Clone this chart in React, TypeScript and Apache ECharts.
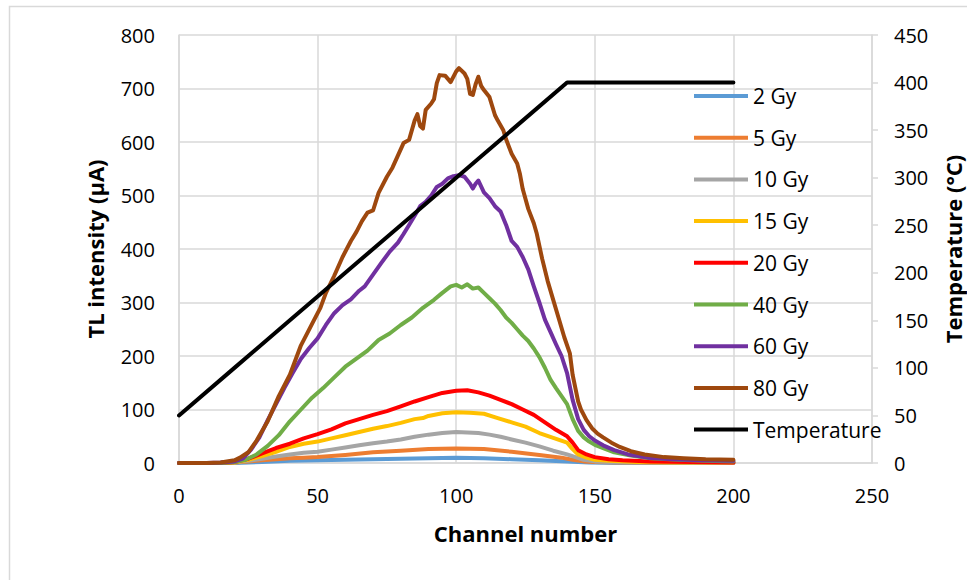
import React, { useEffect, useRef } from "react";
import * as echarts from "echarts";

// Glow curves: [channel, TL intensity (µA)]
const gy2: [number, number][] = [
  [0, 0], [20, 0], [30, 2], [40, 4], [50, 5], [60, 6], [70, 7], [80, 8], [90, 9], [100, 10],
  [110, 9], [120, 7], [130, 5], [140, 3], [148, 1], [160, 0], [200, 0],
];
const gy5: [number, number][] = [
  [0, 0], [15, 0], [20, 1], [25, 3], [30, 5], [35, 7], [40, 9], [45, 10], [50, 11], [60, 15],
  [70, 20], [80, 23], [90, 26], [100, 27], [110, 26], [120, 21], [130, 15], [138, 10], [142, 6],
  [146, 3], [150, 2], [160, 1], [200, 0],
];
const gy10: [number, number][] = [
  [0, 0], [15, 0], [20, 1], [25, 4], [30, 8], [35, 12], [40, 16], [45, 19], [50, 21], [55, 25],
  [60, 29], [65, 33], [70, 37], [75, 40], [80, 44], [85, 49], [90, 53], [95, 56], [100, 58],
  [104, 57], [108, 56], [112, 53], [116, 49], [120, 44], [125, 38], [130, 31], [135, 23],
  [140, 16], [143, 11], [146, 6], [150, 3], [160, 1], [200, 0],
];
const gy15: [number, number][] = [
  [0, 0], [15, 0], [20, 1], [25, 6], [30, 13], [35, 21], [40, 30], [45, 36], [50, 40], [55, 46],
  [60, 52], [65, 58], [70, 64], [75, 69], [80, 75], [85, 82], [88, 84], [90, 88], [95, 93],
  [100, 95], [105, 94], [110, 92], [115, 84], [120, 76], [125, 68], [130, 56], [135, 47],
  [140, 38], [142, 26], [144, 16], [147, 10], [150, 6], [155, 4], [165, 2], [180, 1], [200, 1],
];
const gy20: [number, number][] = [
  [0, 0], [15, 0], [20, 2], [25, 8], [30, 18], [35, 28], [40, 36], [45, 46], [50, 54], [55, 63],
  [60, 74], [65, 82], [70, 90], [75, 97], [80, 106], [85, 115], [90, 123], [95, 131], [100, 135],
  [104, 136], [108, 132], [112, 126], [116, 118], [120, 110], [124, 100], [128, 90], [132, 76],
  [136, 62], [140, 50], [142, 38], [144, 24], [147, 16], [150, 11], [155, 7], [160, 5],
  [170, 3], [185, 2], [200, 1],
];
const gy40: [number, number][] = [
  [0, 0], [15, 0], [20, 2], [24, 6], [28, 16], [32, 32], [36, 52], [40, 78], [44, 100],
  [48, 122], [52, 140], [56, 160], [60, 180], [64, 195], [68, 210], [72, 230], [76, 242],
  [80, 258], [84, 272], [88, 290], [92, 305], [95, 318], [98, 330], [100, 333], [102, 328],
  [104, 334], [106, 326], [108, 328], [110, 318], [112, 308], [114, 298], [116, 286],
  [118, 272], [120, 262], [122, 250], [124, 238], [126, 228], [128, 214], [130, 198],
  [132, 178], [134, 156], [136, 140], [138, 125], [140, 110], [142, 82], [144, 60], [146, 48],
  [148, 40], [150, 34], [153, 28], [157, 20], [163, 14], [170, 9], [180, 6], [190, 4], [200, 3],
];
const gy60: [number, number][] = [
  [0, 0], [10, 0], [15, 1], [20, 3], [23, 8], [26, 25], [29, 48], [32, 80], [35, 110],
  [38, 140], [41, 168], [44, 195], [47, 215], [50, 233], [53, 258], [56, 280], [59, 295],
  [62, 306], [65, 322], [67, 330], [70, 352], [73, 374], [76, 395], [79, 412], [81, 428],
  [83, 445], [85, 462], [87, 480], [89, 488], [91, 500], [93, 516], [95, 522], [97, 532],
  [99, 536], [101, 538], [103, 535], [105, 522], [106, 513], [107, 522], [108, 528],
  [110, 506], [112, 495], [114, 480], [116, 470], [118, 445], [120, 415], [122, 404],
  [124, 385], [126, 362], [128, 330], [130, 300], [132, 268], [134, 245], [136, 222],
  [138, 200], [140, 168], [142, 118], [144, 82], [146, 62], [148, 50], [150, 42], [153, 33],
  [157, 24], [162, 16], [169, 10], [178, 7], [188, 5], [200, 4],
];
const gy80: [number, number][] = [
  [0, 0], [10, 0], [15, 1], [20, 5], [22, 10], [25, 20], [28, 42], [32, 78], [36, 125],
  [40, 165], [44, 220], [48, 260], [51, 290], [53, 318], [56, 350], [59, 385], [62, 415],
  [64, 432], [66, 452], [68, 468], [70, 472], [72, 505], [75, 535], [77, 552], [79, 575],
  [81, 598], [83, 604], [85, 640], [86, 652], [87, 630], [88, 625], [89, 660], [91, 672],
  [92, 680], [93, 710], [94, 725], [96, 724], [98, 712], [100, 732], [101, 738], [103, 728],
  [104, 718], [105, 690], [106, 688], [107, 708], [108, 722], [109, 705], [110, 697],
  [112, 684], [114, 650], [115, 640], [117, 622], [118, 605], [120, 578], [122, 560],
  [123, 540], [124, 512], [126, 475], [128, 448], [129, 430], [131, 382], [133, 340],
  [135, 305], [137, 270], [139, 235], [141, 205], [142, 165], [143, 140], [144, 115],
  [145, 100], [147, 80], [149, 65], [151, 55], [153, 48], [156, 38], [159, 30], [163, 22],
  [168, 16], [175, 11], [182, 9], [190, 7], [200, 6],
];

// Heating profile: [channel, temperature (°C)]
const temperature: [number, number][] = [
  [0, 50], [20, 100], [40, 150], [60, 200], [80, 250], [100, 300], [120, 350], [140, 400], [200, 400],
];

const doseNames = ["2 Gy", "5 Gy", "10 Gy", "15 Gy", "20 Gy", "40 Gy", "60 Gy", "80 Gy"];
const doseData = [gy2, gy5, gy10, gy15, gy20, gy40, gy60, gy80];
const doseColors = ["#5B9BD5", "#ED7D31", "#A5A5A5", "#FFC000", "#FF0000", "#70AD47", "#7030A0", "#9E480E"];

const FONT = "'Open Sans', sans-serif";
const GRID = "#D9D9D9";
const LINE_W = 4;

export default function App() {
  const ref = useRef<HTMLDivElement>(null);

  useEffect(() => {
    if (!ref.current) return;
    const chart = echarts.init(ref.current, undefined, { renderer: "svg" });

    const series: any[] = doseNames.map((name, i) => ({
      name,
      type: "line",
      data: doseData[i],
      yAxisIndex: 0,
      showSymbol: false,
      symbol: "none",
      smooth: false,
      lineStyle: { color: doseColors[i], width: LINE_W, cap: "round", join: "round" },
      itemStyle: { color: doseColors[i] },
      z: 2 + i,
    }));
    series.push({
      name: "Temperature",
      type: "line",
      data: temperature,
      yAxisIndex: 1,
      showSymbol: false,
      symbol: "none",
      lineStyle: { color: "#000000", width: LINE_W, cap: "round", join: "round" },
      itemStyle: { color: "#000000" },
      z: 20,
    });

    chart.setOption({
      animation: false,
      backgroundColor: "#ffffff",
      textStyle: { fontFamily: FONT },
      grid: { left: 179, right: 95, top: 35, bottom: 117, outerBoundsMode: "none", containLabel: false },
      legend: {
        orient: "vertical",
        left: 694,
        top: 85,
        padding: 0,
        icon: "rect",
        itemWidth: 54,
        itemHeight: 4,
        itemGap: 19.7,
        selectedMode: false,
        textStyle: { fontFamily: FONT, fontSize: 21, color: "#000", lineHeight: 22 },
        data: [...doseNames, "Temperature"],
      },
      xAxis: {
        type: "value",
        min: 0,
        max: 250,
        interval: 50,
        name: "Channel number",
        nameLocation: "middle",
        nameGap: 59,
        nameTextStyle: { fontFamily: FONT, fontSize: 22, fontWeight: "bold", color: "#000" },
        axisLine: { show: true, lineStyle: { color: GRID, width: 1.5 } },
        axisTick: { show: false },
        axisLabel: { fontFamily: FONT, fontSize: 20, color: "#000", margin: 22 },
        splitLine: { show: true, lineStyle: { color: GRID, width: 1.5 } },
      },
      yAxis: [
        {
          type: "value",
          min: 0,
          max: 800,
          interval: 100,
          name: "TL intensity (µA)",
          nameLocation: "middle",
          nameRotate: 90,
          nameGap: 73,
          nameTextStyle: { fontFamily: FONT, fontSize: 22, fontWeight: "bold", color: "#000" },
          axisLine: { show: true, lineStyle: { color: GRID, width: 1.5 } },
          axisTick: { show: false },
          axisLabel: { fontFamily: FONT, fontSize: 20, color: "#000", margin: 24 },
          splitLine: { show: true, lineStyle: { color: GRID, width: 1.5 } },
        },
        {
          type: "value",
          min: 0,
          max: 450,
          interval: 50,
          name: "Temperature (°C)",
          nameLocation: "middle",
          nameRotate: 90,
          nameGap: 70,
          nameTextStyle: { fontFamily: FONT, fontSize: 22, fontWeight: "bold", color: "#000" },
          axisLine: { show: true, lineStyle: { color: GRID, width: 1.5 } },
          axisTick: { show: true, inside: false, length: 6, lineStyle: { color: GRID, width: 1.5 } },
          axisLabel: { fontFamily: FONT, fontSize: 20, color: "#000", margin: 22 },
          splitLine: { show: false },
        },
      ],
      graphic: [
        {
          type: "rect",
          shape: { x: 9.5, y: 6.5, width: 1000, height: 700 },
          style: { fill: "none", stroke: GRID, lineWidth: 1.5 },
          silent: true,
          z: -10,
        },
      ],
      series,
    });

    return () => chart.dispose();
  }, []);

  return <div ref={ref} style={{ width: 967, height: 580, position: "absolute", left: 0, top: 0 }} />;
}
